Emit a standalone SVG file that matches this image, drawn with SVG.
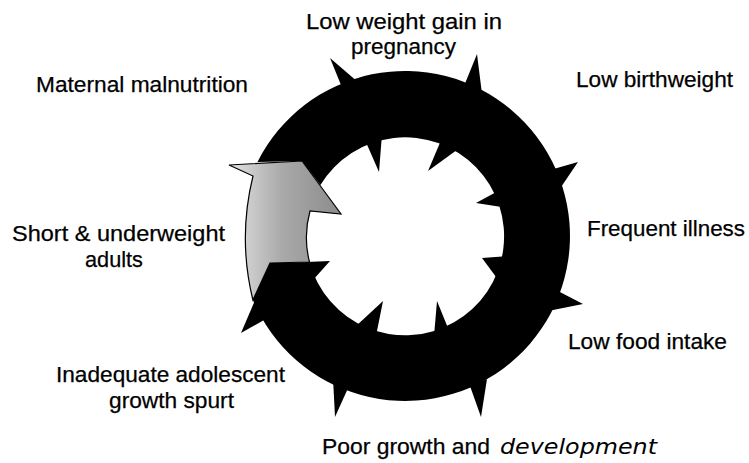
<svg xmlns="http://www.w3.org/2000/svg" width="749" height="463" viewBox="0 0 749 463">
  <style>
    .lbl { font-family: "Liberation Sans", Arial, sans-serif; font-size: 22px; fill: #000; stroke: #000; stroke-width: 0.25; }
    .hand { font-family: "DejaVu Sans", "Liberation Sans", sans-serif; font-style: italic; font-size: 21px; stroke-width: 0; }
    .ink { fill: #000; }
  </style>
  <defs>
    <linearGradient id="grayArrow" x1="235" y1="0" x2="340" y2="0" gradientUnits="userSpaceOnUse">
      <stop offset="0" stop-color="#dcdcdc"/>
      <stop offset="0.45" stop-color="#a9a9a9"/>
      <stop offset="1" stop-color="#8c8c8c"/>
    </linearGradient>
  </defs>
  <rect width="749" height="463" fill="#fff"/>

  <g id="connectors">
    <g id="cycle-ring">
      <path class="ink" d="M257.5,162 A165,165 0 1 1 252.9,300 L270,263 L309.5,262 A99,99 0 1 0 320.4,185 L302,161 Z"/>
      <!-- outer spikes -->
      <polygon class="ink" points="330,58 343,90 359,83"/>
      <polygon class="ink" points="477,54 464,86 482,94"/>
      <polygon class="ink" points="578,162 550,170 557,193"/>
      <polygon class="ink" points="583,304 556,290 548,311"/>
      <polygon class="ink" points="481,417 470,386 487,379"/>
      <polygon class="ink" points="335,417 333,378 349,386"/>
      <polygon class="ink" points="241,333 256,298 271,316"/>
      <!-- inner spikes -->
      <polygon class="ink" points="379,172 365,140 382,134"/>
      <polygon class="ink" points="428,171 442,138 461,147"/>
      <polygon class="ink" points="476,203 500,190 508,208"/>
      <polygon class="ink" points="482,258 509,256 502,285"/>
      <polygon class="ink" points="437,301 450,333 434,336"/>
      <polygon class="ink" points="383,301 376,336 355,327"/>
      <polygon class="ink" points="330,261 306,262 313,280"/>
    </g>
    <g id="cycle-arrow">
      <path d="M229,165 L302,161 L341,214 L310,211 A99,99 0 0 0 309.5,262 L270,263 L252.9,300 A260,260 0 0 1 253,176 Z" fill="url(#grayArrow)" stroke="#000" stroke-width="1.2" stroke-linejoin="miter"/>
    </g>
  </g>

  <g id="node-low-weight-gain">
    <text class="lbl" x="306" y="29" textLength="196" lengthAdjust="spacingAndGlyphs">Low weight gain in</text>
    <text class="lbl" x="351" y="54" textLength="105" lengthAdjust="spacingAndGlyphs">pregnancy</text>
  </g>
  <g id="node-low-birthweight">
    <text class="lbl" x="576" y="87" textLength="157" lengthAdjust="spacingAndGlyphs">Low birthweight</text>
  </g>
  <g id="node-frequent-illness">
    <text class="lbl" x="587" y="236" textLength="158" lengthAdjust="spacingAndGlyphs">Frequent illness</text>
  </g>
  <g id="node-low-food-intake">
    <text class="lbl" x="568" y="349" textLength="159" lengthAdjust="spacingAndGlyphs">Low food intake</text>
  </g>
  <g id="node-poor-growth">
    <text class="lbl" x="322" y="454"><tspan textLength="168" lengthAdjust="spacingAndGlyphs">Poor growth and</tspan><tspan class="hand" x="500" textLength="157" lengthAdjust="spacingAndGlyphs">development</tspan></text>
  </g>
  <g id="node-inadequate-adolescent">
    <text class="lbl" x="56" y="382" textLength="229" lengthAdjust="spacingAndGlyphs">Inadequate adolescent</text>
    <text class="lbl" x="109" y="408" textLength="125" lengthAdjust="spacingAndGlyphs">growth spurt</text>
  </g>
  <g id="node-short-underweight">
    <text class="lbl" x="12" y="241" textLength="213" lengthAdjust="spacingAndGlyphs">Short &amp; underweight</text>
    <text class="lbl" x="85" y="267" textLength="58" lengthAdjust="spacingAndGlyphs">adults</text>
  </g>
  <g id="node-maternal-malnutrition">
    <text class="lbl" x="36" y="92" textLength="212" lengthAdjust="spacingAndGlyphs">Maternal malnutrition</text>
  </g>
</svg>
